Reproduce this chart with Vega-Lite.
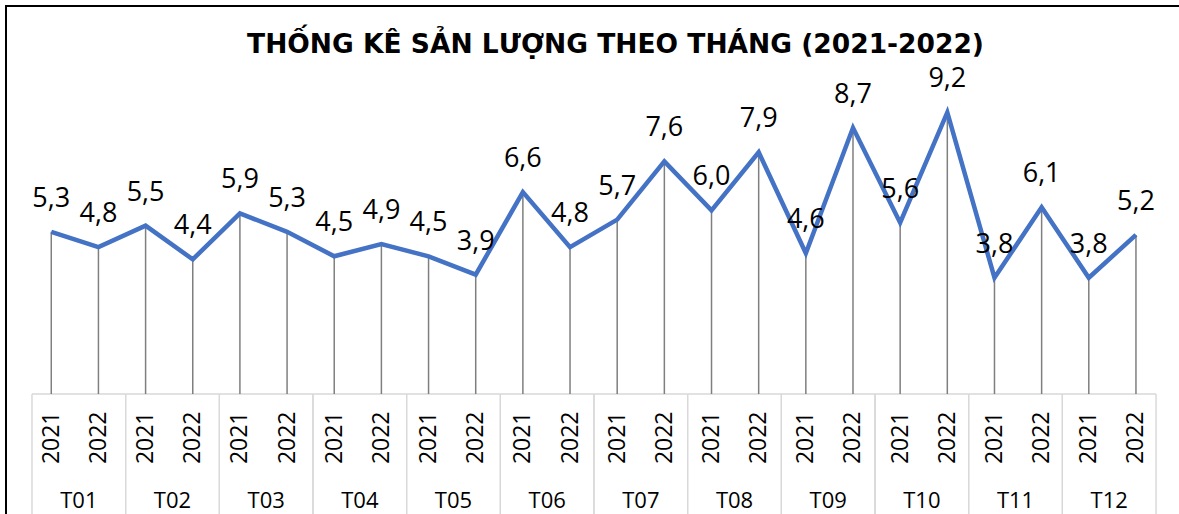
{
  "$schema": "https://vega.github.io/schema/vega-lite/v6.json",
  "width": 1179,
  "height": 514,
  "autosize": {"type": "none"},
  "padding": {"left": 6, "top": 6, "right": 0, "bottom": 0},
  "background": "white",
  "config": {
    "view": {"stroke": "#000000", "strokeWidth": 2},
    "locale": {"number": {"decimal": ",", "thousands": ".", "grouping": [3], "currency": ["", " đ"]}},
    "font": "Open Sans"
  },
  "title": {
    "text": "THỐNG KÊ SẢN LƯỢNG THEO THÁNG (2021-2022)",
    "font": "DejaVu Sans",
    "fontWeight": "bold",
    "fontSize": 26.5,
    "color": "#000000",
    "anchor": "middle",
    "baseline": "middle",
    "offset": -65,
    "dx": 20
  },
  "data": {
    "values": [
      {"month": "T01", "year": "2021", "key": "T01 2021", "value": 5.3},
      {"month": "T01", "year": "2022", "key": "T01 2022", "value": 4.8},
      {"month": "T02", "year": "2021", "key": "T02 2021", "value": 5.5},
      {"month": "T02", "year": "2022", "key": "T02 2022", "value": 4.4},
      {"month": "T03", "year": "2021", "key": "T03 2021", "value": 5.9},
      {"month": "T03", "year": "2022", "key": "T03 2022", "value": 5.3},
      {"month": "T04", "year": "2021", "key": "T04 2021", "value": 4.5},
      {"month": "T04", "year": "2022", "key": "T04 2022", "value": 4.9},
      {"month": "T05", "year": "2021", "key": "T05 2021", "value": 4.5},
      {"month": "T05", "year": "2022", "key": "T05 2022", "value": 3.9},
      {"month": "T06", "year": "2021", "key": "T06 2021", "value": 6.6},
      {"month": "T06", "year": "2022", "key": "T06 2022", "value": 4.8},
      {"month": "T07", "year": "2021", "key": "T07 2021", "value": 5.7},
      {"month": "T07", "year": "2022", "key": "T07 2022", "value": 7.6},
      {"month": "T08", "year": "2021", "key": "T08 2021", "value": 6.0},
      {"month": "T08", "year": "2022", "key": "T08 2022", "value": 7.9},
      {"month": "T09", "year": "2021", "key": "T09 2021", "value": 4.6},
      {"month": "T09", "year": "2022", "key": "T09 2022", "value": 8.7},
      {"month": "T10", "year": "2021", "key": "T10 2021", "value": 5.6},
      {"month": "T10", "year": "2022", "key": "T10 2022", "value": 9.2},
      {"month": "T11", "year": "2021", "key": "T11 2021", "value": 3.8},
      {"month": "T11", "year": "2022", "key": "T11 2022", "value": 6.1},
      {"month": "T12", "year": "2021", "key": "T12 2021", "value": 3.8},
      {"month": "T12", "year": "2022", "key": "T12 2022", "value": 5.2}
    ]
  },
  "resolve": {"scale": {"x": "independent"}},
  "layer": [
    {
      "mark": {"type": "bar", "fillOpacity": 0, "stroke": "#d9d9d9", "strokeWidth": 1},
      "encoding": {
        "x": {
          "field": "month",
          "type": "nominal",
          "sort": null,
          "scale": {"type": "band", "paddingInner": 0, "paddingOuter": 0.2935, "align": 0.473},
          "axis": {
            "orient": "bottom",
            "offset": -126,
            "domain": false,
            "ticks": false,
            "grid": false,
            "title": null,
            "labelAngle": 0,
            "labelFont": "Open Sans",
            "labelFontSize": 22,
            "labelColor": "#000000",
            "labelBaseline": "top",
            "labelPadding": 96
          }
        },
        "y": {"datum": 0, "type": "quantitative", "scale": {"domain": [-4.118, 12.68], "nice": false, "zero": false}, "axis": null},
        "y2": {"datum": -4.118}
      }
    },
    {
      "encoding": {
        "x": {
          "field": "key",
          "type": "nominal",
          "sort": null,
          "scale": {"type": "point", "padding": 1.089, "align": 0.48},
          "axis": {
            "orient": "bottom",
            "offset": -126,
            "domain": false,
            "ticks": false,
            "grid": false,
            "title": null,
            "labelAngle": 270,
            "labelExpr": "slice(datum.value, 4)",
            "labelFont": "Open Sans",
            "labelFontSize": 23,
            "labelColor": "#000000",
            "labelPadding": 17
          }
        },
        "y": {"field": "value", "type": "quantitative", "scale": {"domain": [-4.118, 12.68], "nice": false, "zero": false}, "axis": null}
      },
      "layer": [
        {"mark": {"type": "rule", "color": "#7f7f7f", "strokeWidth": 1.5}, "encoding": {"y2": {"datum": 0}}},
        {"mark": {"type": "line", "color": "#4472c4", "strokeWidth": 4.5}, "encoding": {}},
        {
          "mark": {"type": "text", "dy": -33, "baseline": "middle", "align": "center", "fontSize": 27, "font": "Open Sans", "color": "#000000"},
          "encoding": {"text": {"field": "value", "type": "quantitative", "format": ".1f"}}
        }
      ]
    }
  ]
}
